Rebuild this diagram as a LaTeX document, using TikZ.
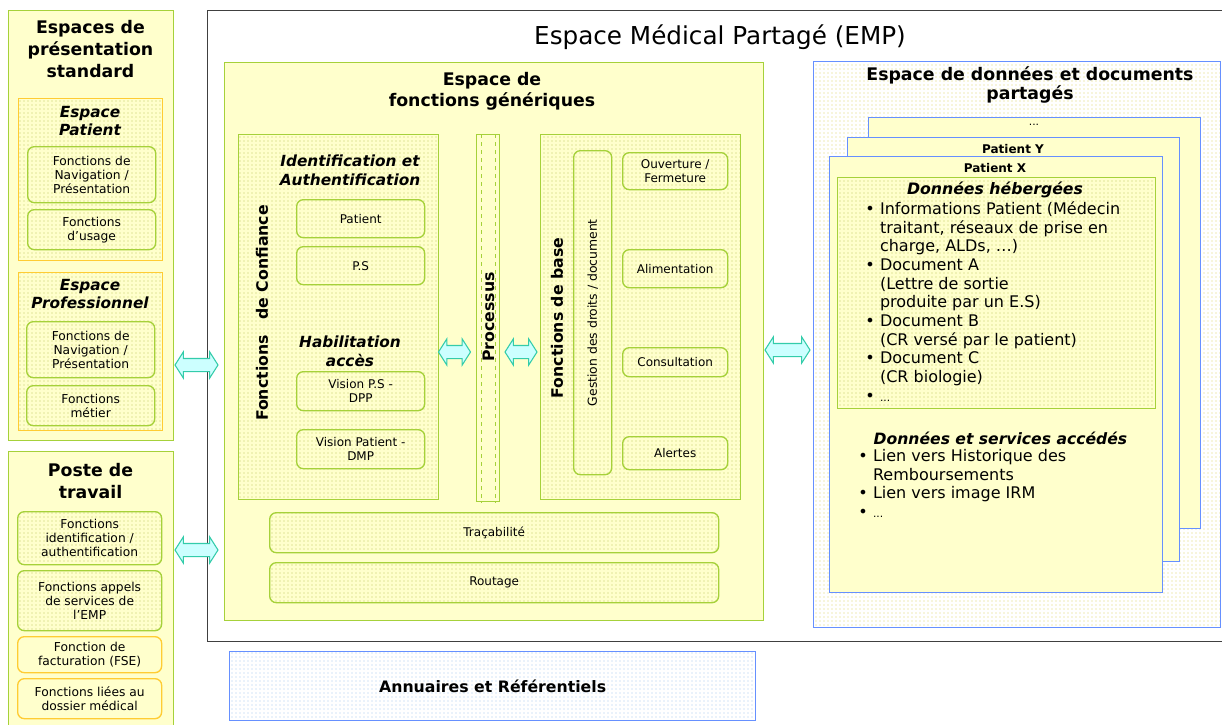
\documentclass[tikz,border=0pt]{standalone}
\usepackage{fontspec}
\setmainfont{DejaVu Sans}
\usetikzlibrary{patterns,shapes.arrows}
\definecolor{ybg}{HTML}{FFFFCC}
\definecolor{gbd}{HTML}{A6D13A}
\definecolor{obd}{HTML}{FFCC33}
\definecolor{bbd}{HTML}{6690FF}
\definecolor{dotc}{HTML}{BFCB60}
\definecolor{ydot}{HTML}{E0D868}
\definecolor{bdot}{HTML}{A8C8EE}
\definecolor{afill}{HTML}{CCFFFF}
\definecolor{abd}{HTML}{33CCAA}
\definecolor{empbd}{HTML}{404040}
\tikzset{
  bx/.style 2 args={anchor=north west, minimum width={#1*0.75pt}, minimum height={#2*0.75pt}, inner sep=0pt, align=center, line width=1pt},
  gbox/.style={draw=gbd, fill=ybg},
  obox/.style={draw=obd, fill=ybg},
  dotted yellow/.style={preaction={fill=ybg}, pattern=dots, pattern color=dotc},
  gdot/.style={draw=gbd, dotted yellow},
  odot/.style={draw=obd, dotted yellow},
  rnd/.style={rounded corners=5pt},
  sm/.style={font=\fontsize{9.2}{10.5}\selectfont},
  smc/.style={font=\fontsize{9}{10.5}\selectfont},
  ttl/.style={font=\fontsize{13}{16.5}\selectfont\bfseries, align=center},
  ittl/.style={font=\fontsize{11.5}{13.5}\selectfont\bfseries\itshape, align=center},
  vlab/.style={font=\fontsize{11.8}{13}\selectfont\bfseries, rotate=90},
  dbl/.style={double arrow, draw=abd, fill=afill, line width=0.8pt, inner sep=0pt,
    minimum height={#1*0.75pt}, double arrow head extend=4.9pt, double arrow tip angle=115},
  txt/.style={font=\fontsize{12}{14}\selectfont},
}
\begin{document}
\begin{tikzpicture}[x=0.75pt,y=-0.75pt]
\clip (0,0) rectangle (1222,725);
\fill[white] (0,0) rectangle (1222,725);

% ---------- Left column: presentation spaces ----------
\node[bx={165}{430}, gbox] (ps) at (8,10) {};
\node[ttl] (pst) at (90.5,49) {Espaces de\\présentation\\standard};
\node[bx={144}{162}, odot] (ep) at (18,98) {};
\node[ittl] (ept) at (90,121) {Espace\\Patient};
\node[bx={128}{56}, gdot, rnd, sm] (fnav1) at (27,146) {Fonctions de\\Navigation /\\Présentation};
\node[bx={128}{40}, gdot, rnd, sm] (fus) at (27,209) {Fonctions\\d’usage};
\node[bx={144}{158}, odot] (epr) at (18,272) {};
\node[ittl] (eprt) at (90,294) {Espace\\Professionnel};
\node[bx={128}{56}, gdot, rnd, sm] (fnav2) at (26,321) {Fonctions de\\Navigation /\\Présentation};
\node[bx={128}{40}, gdot, rnd, sm] (fmet) at (26,385) {Fonctions\\métier};

% ---------- Poste de travail ----------
\node[bx={165}{290}, gbox] (pt) at (8,451) {};
\node[ttl] (ptt) at (90.5,481) {Poste de\\travail};
\node[bx={144}{53}, gdot, rnd, sm] (fid) at (17,511) {Fonctions\\identification /\\authentification};
\node[bx={144}{60}, gdot, rnd, sm] (fapp) at (17,570) {Fonctions appels\\de services de\\l’EMP};
\node[bx={144}{36}, obox, rnd, sm] (ffac) at (17,636) {Fonction de\\facturation (FSE)};
\node[bx={144}{40}, obox, rnd, sm] (flie) at (17,678) {Fonctions liées au\\dossier médical};

% ---------- EMP ----------
\node[bx={1014.5}{631}, draw=empbd, line width=1.1pt] (emp) at (207,10) {};
\node[font=\fontsize{18.5}{21}\selectfont] (empt) at (720,37) {Espace Médical Partagé (EMP)};

% generic functions
\node[bx={539}{558}, gbox] (gen) at (224,62) {};
\node[ttl, font=\fontsize{13}{15.75}\selectfont\bfseries] (gent) at (492,91) {Espace de\\fonctions génériques};

\node[bx={200}{365}, gdot] (conf) at (238,134) {};
\node[vlab] (conft) at (262,313) {Fonctions\quad de Confiance};
\node[ittl, font=\fontsize{11.5}{14.25}\selectfont\bfseries\itshape] (idt) at (350,170) {Identification et\\Authentification};
\node[bx={128}{38}, gdot, rnd, smc] (pat) at (296,199) {Patient};
\node[bx={128}{38}, gdot, rnd, smc] (psb) at (296,246) {P.S};
\node[ittl, font=\fontsize{11.5}{14.25}\selectfont\bfseries\itshape] (hab) at (350,351) {Habilitation\\accès};
\node[bx={128}{39}, gdot, rnd, smc] (vps) at (296,371) {Vision P.S -\\DPP};
\node[bx={128}{39}, gdot, rnd, smc] (vpd) at (296,429) {Vision Patient -\\DMP};

\node[bx={23}{367}, gbox] (proc) at (476,134) {};
\draw[gbd, dashed, line width=0.5pt] ([xshift=4pt]proc.north west) -- ([xshift=4pt]proc.south west);
\draw[gbd, dashed, line width=0.5pt] ([xshift=-4pt]proc.north east) -- ([xshift=-4pt]proc.south east);
\node[vlab, inner sep=1pt] (proct) at (488.5,317) {Processus};

\node[bx={200}{365}, gdot] (base) at (540,134) {};
\node[vlab] (baset) at (557,318) {Fonctions de base};
\node[bx={38}{324}, gdot, rnd] (gest) at (573,150) {};
\node[font=\fontsize{9.3}{11}\selectfont, rotate=90] (gestt) at (gest.center) {Gestion des droits / document};
\node[bx={105}{37}, gdot, rnd, smc] (ouv) at (622,152) {Ouverture /\\Fermeture};
\node[bx={105}{38}, gdot, rnd, smc] (ali) at (622,249) {Alimentation};
\node[bx={105}{29}, gdot, rnd, smc] (cons) at (622,347) {Consultation};
\node[bx={105}{33}, gdot, rnd, smc] (alr) at (622,436) {Alertes};

\node[bx={449}{40}, gdot, rnd, smc] (tra) at (269,512) {Traçabilité};
\node[bx={449}{40}, gdot, rnd, smc] (rou) at (269,562) {Routage};

% ---------- Data space ----------
\node[bx={407}{566}, draw=bbd, preaction={fill=white}, pattern=dots, pattern color=ydot] (ds) at (813,61) {};
\node[ttl, font=\fontsize{13}{12.75}\selectfont\bfseries] (dst) at (1030,85) {Espace de données et documents\\partagés};
\node[bx={332}{411}, draw=bbd, fill=ybg] (d3) at (868,117) {};
\node[font=\fontsize{8}{9}\selectfont, anchor=north] (d3t) at (1034,119) {...};
\node[bx={332}{424}, draw=bbd, fill=ybg] (dy) at (847,137) {};
\node[font=\fontsize{9}{10}\selectfont\bfseries, anchor=north] (dyt) at (1013,140) {Patient Y};
\node[bx={333}{436}, draw=bbd, fill=ybg] (dx) at (829,156) {};
\node[font=\fontsize{9}{10}\selectfont\bfseries, anchor=north] (dxt) at (995,159) {Patient X};
\node[bx={318}{231}, gdot] (dh) at (837,177) {};
\node[font=\fontsize{11.8}{14}\selectfont\bfseries\itshape] (dht) at (995,190) {Données hébergées};
\node[txt, anchor=north west, inner sep=0pt] (dhl) at (865,201) {%
\begin{tabular}{@{}l@{\hspace{4pt}}l@{}}
\textbullet & Informations Patient (Médecin\\
 & traitant, réseaux de prise en\\
 & charge, ALDs, …)\\
\textbullet & Document A\\
 & (Lettre de sortie\\
 & produite par un E.S)\\
\textbullet & Document B\\
 & (CR versé par le patient)\\
\textbullet & Document C\\
 & (CR biologie)\\
\textbullet & {\fontsize{8}{9}\selectfont ...}
\end{tabular}};
\node[font=\fontsize{11.7}{14}\selectfont\bfseries\itshape, anchor=west] (dsat) at (869,438) {Données et services accédés};
\node[txt, anchor=north west, inner sep=0pt] (dsal) at (858,448) {%
\begin{tabular}{@{}l@{\hspace{4pt}}l@{}}
\textbullet & Lien vers Historique des\\
 & Remboursements\\
\textbullet & Lien vers image IRM\\
\textbullet & {\fontsize{8}{9}\selectfont ...}
\end{tabular}};

% ---------- Annuaires ----------
\node[bx={526}{69}, draw=bbd, preaction={fill=white}, pattern=dots, pattern color=bdot] (ann) at (229,651) {};
\node[font=\fontsize{11.8}{13}\selectfont\bfseries] (annt) at (ann.center) {Annuaires et Référentiels};

% ---------- Double arrows ----------
\node[dbl=43] (a1) at (196.5,365) {\rule{0pt}{9pt}};
\node[dbl=43] (a2) at (196.5,550) {\rule{0pt}{9pt}};
\node[dbl=32] (a3) at (454.5,352) {\rule{0pt}{9pt}};
\node[dbl=32] (a4) at (521,352) {\rule{0pt}{9pt}};
\node[dbl=45] (a5) at (787.5,350) {\rule{0pt}{9pt}};
\end{tikzpicture}
\end{document}
